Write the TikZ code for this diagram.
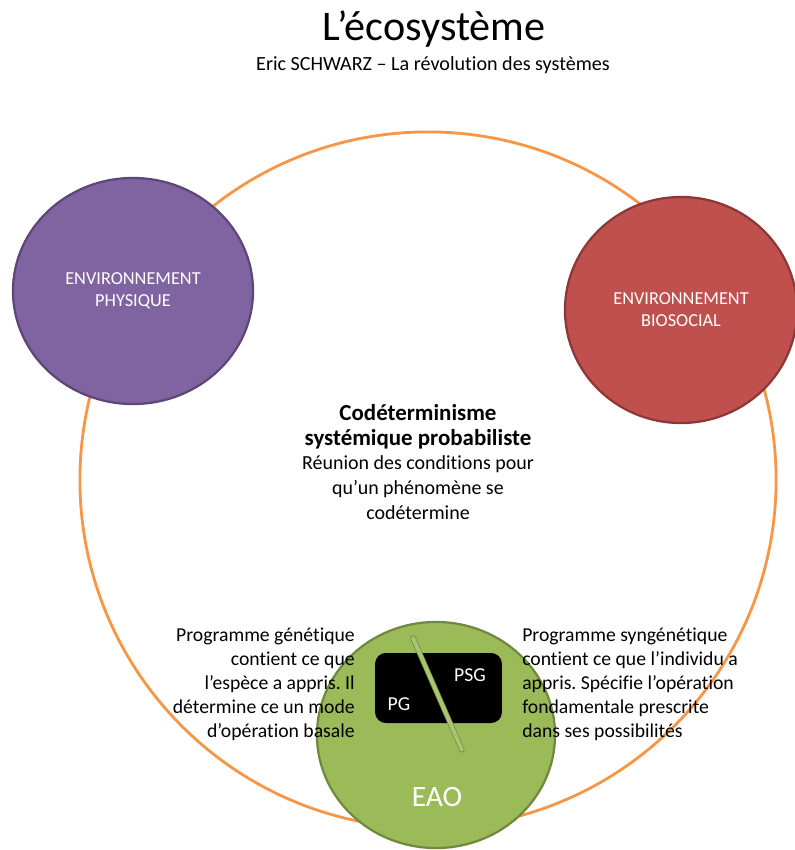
\documentclass[tikz,border=0pt]{standalone}
\usepackage{fontspec}
\setmainfont{Carlito}[RawFeature={-liga;-dlig;-clig}]
\usepackage{tikz}
\usetikzlibrary{shapes.geometric}
\frenchspacing

\definecolor{ringorange}{HTML}{F79646}
\definecolor{physfill}{HTML}{8064A2}
\definecolor{physline}{HTML}{5C4776}
\definecolor{biofill}{HTML}{C0504D}
\definecolor{bioline}{HTML}{8C3836}
\definecolor{eaofill}{HTML}{9BBB59}
\definecolor{eaoline}{HTML}{71893F}
\definecolor{splitline}{HTML}{A9C56F}

\begin{document}
\begin{tikzpicture}[
    x=0.025cm, y=-0.025cm,
    ring/.style={circle, draw=ringorange, line width=2pt, minimum size=17.4cm, inner sep=0pt},
    env/.style={ellipse, line width=1.6pt, minimum width=6cm, minimum height=5.65cm, inner sep=0pt,
        align=center, text=white, font=\fontsize{13}{15.5}\selectfont},
    prog/.style={font=\fontsize{14}{17}\selectfont, inner sep=0pt},
    tag/.style={text=white, font=\fontsize{14}{17}\selectfont, inner sep=0pt}
]
\useasboundingbox (0,0) rectangle (795,850);

% --- Title ---
\node[font=\fontsize{30}{33}\selectfont] (title) at (434,29) {L’écosystème};
\node[font=\fontsize{14.3}{16}\selectfont] (subtitle) at (433,65) {Eric SCHWARZ – La révolution des systèmes};

% --- Orange ring ---
\node[ring] (ring) at (428,480) {};

% --- Environments ---
\node[env, fill=physfill, draw=physline] (phys) at (133,291) {ENVIRONNEMENT\\PHYSIQUE};
\node[env, fill=biofill, draw=bioline, minimum width=5.8cm] (bio) at (681,310) {ENVIRONNEMENT\\BIOSOCIAL};

% --- EAO ---
\node[env, fill=eaofill, draw=eaoline, minimum width=5.95cm] (eao) at (436,735) {};
\node[text=white, font=\fontsize{21}{24}\selectfont, inner sep=0pt] (eaolabel) at (437,797) {EAO};

% Black box with PG / PSG
\node[fill=black, rounded corners=0.27cm, minimum width=3.17cm, minimum height=1.75cm, inner sep=0pt] (box) at (438.5,688) {};
\node[tag] (psg) at (470,675) {PSG};
\node[tag] (pg) at (399,704) {PG};

% Split line across the box
\coordinate (splittop) at (413,638);
\coordinate (splitbot) at (462,750);
\draw[eaoline, line width=3.8pt, line cap=round] (splittop) -- (splitbot);
\draw[splitline, line width=2.8pt, line cap=round] (splittop) -- (splitbot);

% --- Central text ---
\node[align=center, font=\fontsize{14.2}{17.5}\selectfont, inner sep=0pt] (core) at (418,462)
    {{\fontsize{16.3}{19}\selectfont\bfseries Codéterminisme}\\{\fontsize{16.3}{19}\selectfont\bfseries systémique probabiliste}\\Réunion des conditions pour\\qu’un phénomène se\\codétermine};

% --- Programmes ---
\node[prog, align=right, anchor=east] (pgtext) at (355,684)
    {Programme génétique\\contient ce que\\l’espèce a appris. Il\\détermine ce un mode\\d’opération basale};
\node[prog, align=left, anchor=west] (psgtext) at (522,684)
    {Programme syngénétique\\contient ce que l’individu a\\appris. Spécifie l’opération\\fondamentale prescrite\\dans ses possibilités};

\end{tikzpicture}
\end{document}
